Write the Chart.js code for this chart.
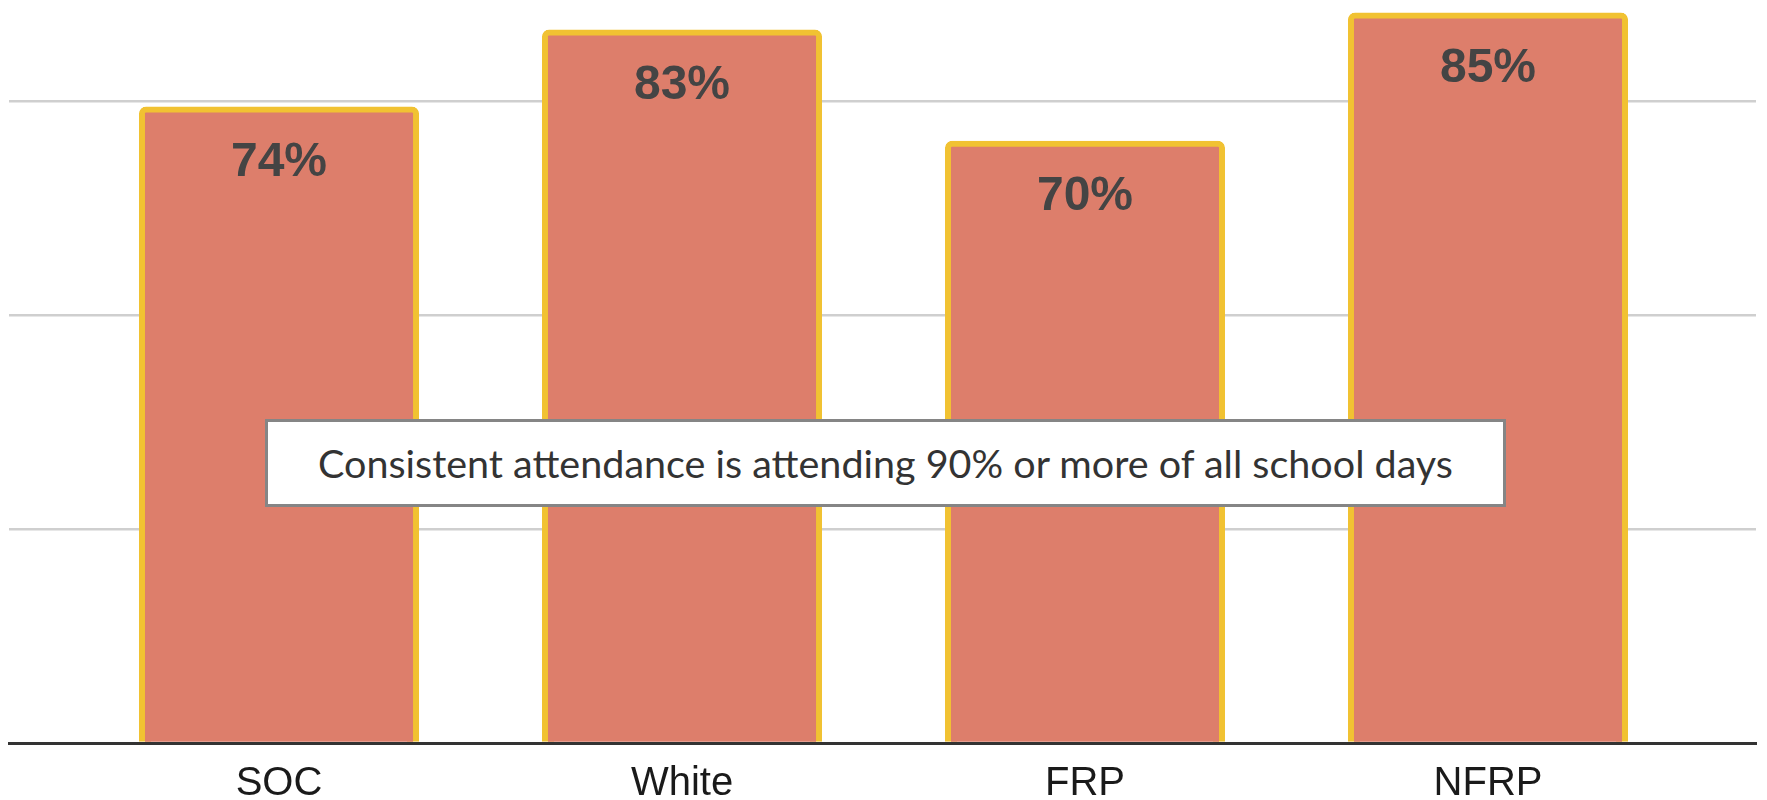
<!DOCTYPE html>
<html>
<head>
<meta charset="utf-8">
<script src="https://cdn.jsdelivr.net/npm/chart.js@4"></script>
<style>
body{margin:0;background:#fff;}
#wrap{position:relative;width:1767px;height:800px;}
#note{position:absolute;left:265px;top:419px;width:1235px;height:82px;border:3px solid #858585;background:#fff;
font-family:Lato,"Open Sans",sans-serif;font-size:39.5px;color:#333;text-align:center;line-height:82px;white-space:nowrap;}
</style>
</head>
<body>
<div id="wrap">
<canvas id="chart"></canvas>
<div id="note">Consistent attendance is attending 90% or more of all school days</div>
</div>
<script>
let groups=["SOC","White","FRP","NFRP"];
let rates=[74,83,70,85];
let gridSteps=[25,50,75];

// bars sit on a linear x scale so the axis line can run past the outer bars
let points=rates.map((v,i)=>({x:i,y:v}));

let valueLabels={
id:"valueLabels",
afterDatasetsDraw(chart){
let ctx=chart.ctx;
let meta=chart.getDatasetMeta(0);
ctx.save();
ctx.font="bold 48px 'Liberation Sans', Arial, sans-serif";
ctx.fillStyle="#444444";
ctx.textAlign="center";
ctx.textBaseline="middle";
meta.data.forEach((bar,i)=>{
ctx.fillText(rates[i]+"%",bar.x,bar.y+53);
});
ctx.restore();
}
};

new Chart(document.getElementById("chart"),{
type:"bar",
data:{
datasets:[{
data:points,
backgroundColor:"#dd7e6b",
borderColor:"#f1c232",
borderWidth:6,
borderRadius:7,
borderSkipped:"start",
inflateAmount:3,
categoryPercentage:1,
barPercentage:0.68
}]
},
options:{
responsive:true,
maintainAspectRatio:false,
animation:false,
layout:{padding:{left:9,right:11,top:0,bottom:0}},
plugins:{legend:{display:false},tooltip:{enabled:false}},
scales:{
x:{
type:"linear",
offset:false,
min:-0.67,
max:groups.length-1+0.665,
afterBuildTicks:s=>{s.ticks=groups.map((g,i)=>({value:i}));},
afterFit:s=>{s.height=57;},
ticks:{
callback:v=>groups[v],
font:{family:"'Liberation Sans', Arial, sans-serif",size:40,lineHeight:1.05},
color:"#1a1a1a",
padding:20,
maxRotation:0,
autoSkip:false
},
grid:{display:false,drawTicks:false,offset:false},
border:{display:true,color:"#333333",width:3}
},
y:{
min:0,
max:86.8,
ticks:{display:false,stepSize:25},
grid:{
drawTicks:false,
lineWidth:2.5,
color:c=>gridSteps.includes(c.tick.value)?"#cfcfcf":"rgba(0,0,0,0)"
},
border:{display:false}
}
}
},
plugins:[valueLabels]
});
</script>
</body>
</html>
